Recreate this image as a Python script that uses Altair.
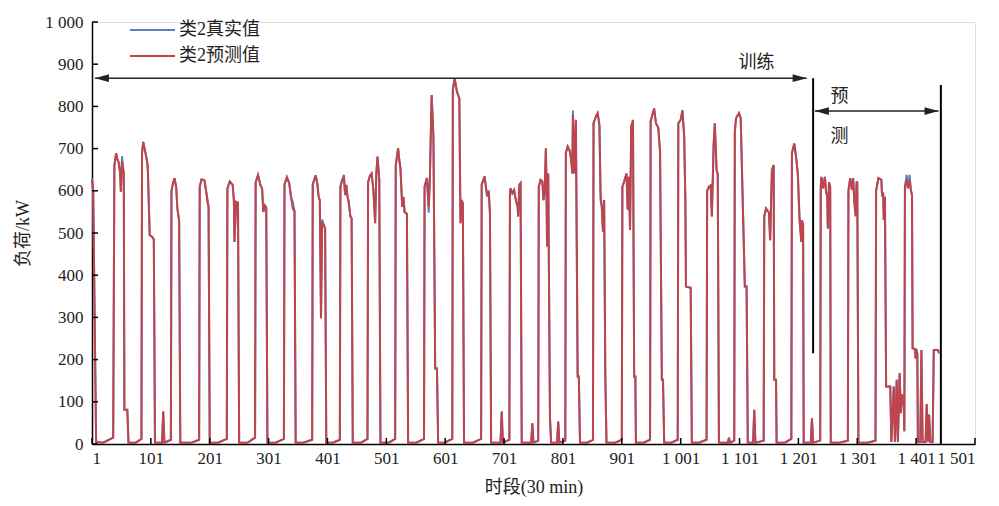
import altair as alt
import pandas as pd

# ---- data (breakpoints of the 30-min load series) ----
time_x = (
    [1, 3, 8, 20, 37]
    + [39, 42, 44, 46, 48, 49, 50, 52, 55, 56, 61, 63, 75, 85]
    + [86, 88, 92, 95, 96, 99, 103, 106, 108, 120, 122, 124, 135]
    + [136, 138, 141, 144, 146, 148, 149, 151, 170, 183]
    + [184, 187, 192, 195, 197, 199, 201, 215, 230]
    + [231, 235, 240, 242, 243, 246, 249, 251, 265, 278]
    + [279, 283, 287, 290, 292, 295, 297, 299, 313, 327]
    + [328, 332, 336, 339, 342, 345, 347, 360, 375]
    + [376, 381, 384, 386, 388, 390, 392, 395, 397, 399, 410, 422]
    + [423, 426, 429, 431, 433, 435, 437, 440, 442, 444, 458, 469]
    + [470, 473, 476, 479, 482, 484, 486, 489, 491, 505, 516]
    + [517, 521, 523, 525, 528, 530, 532, 536, 538, 552, 565]
    + [566, 570, 573, 575, 578, 581, 584, 587, 589, 600, 613]
    + [614, 617, 621, 625, 627, 629, 631, 633, 648, 662]
    + [663, 668, 670, 672, 675, 677, 679, 695, 697, 699, 710]
    + [711, 712, 715, 718, 721, 724, 725, 727, 729, 731, 747, 749, 751, 759]
    + [760, 763, 766, 768, 770, 772, 773, 774, 776, 779, 781, 791, 793, 795, 805]
    + [806, 809, 813, 815, 817, 818, 820, 823, 826, 828, 830, 842, 852]
    + [853, 857, 860, 863, 865, 867, 869, 871, 873, 875, 890, 901]
    + [902, 905, 909, 911, 913, 915, 917, 920, 922, 924, 925, 938, 949]
    + [950, 953, 956, 959, 963, 966, 969, 971, 973, 985, 996]
    + [997, 1001, 1004, 1007, 1009, 1010, 1018, 1020, 1032, 1045]
    + [1046, 1049, 1052, 1054, 1057, 1059, 1062, 1064, 1066, 1081, 1083, 1085, 1092]
    + [1093, 1095, 1100, 1103, 1107, 1110, 1113, 1115, 1124, 1126, 1128, 1142]
    + [1143, 1146, 1151, 1153, 1156, 1159, 1160, 1163, 1164, 1178, 1189]
    + [1190, 1194, 1197, 1200, 1203, 1206, 1207, 1209, 1210, 1222, 1224, 1226, 1238]
    + [1239, 1240, 1243, 1246, 1248, 1250, 1251, 1253, 1255, 1256, 1270, 1285]
    + [1286, 1289, 1292, 1294, 1296, 1298, 1300, 1301, 1303, 1318, 1332]
    + [1333, 1337, 1342, 1343, 1345, 1346, 1348, 1350, 1357, 1359, 1363, 1365, 1368,
       1370, 1373, 1375, 1377, 1380, 1381]
    + [1382, 1385, 1387, 1390, 1392, 1394, 1395, 1399, 1400, 1401, 1403, 1404, 1408,
       1410, 1412, 1417, 1419, 1421, 1423, 1425, 1429, 1431, 1438, 1440]
)

pred_kw = (
    [627, 600, 5, 3, 15]
    + [660, 689, 675, 669, 650, 637, 598, 669, 640, 81, 81, 3, 3, 12]
    + [690, 716, 689, 666, 645, 495, 491, 485, 3, 3, 77, 3, 10]
    + [600, 614, 630, 610, 558, 539, 530, 3, 3, 10]
    + [610, 627, 625, 598, 574, 562, 3, 3, 12]
    + [605, 622, 614, 578, 479, 574, 572, 3, 3, 15]
    + [620, 637, 614, 605, 550, 565, 560, 3, 3, 12]
    + [615, 632, 618, 586, 558, 552, 3, 3, 10]
    + [615, 637, 614, 586, 578, 298, 523, 519, 510, 3, 3, 10]
    + [610, 626, 630, 590, 614, 586, 574, 539, 535, 3, 3, 12]
    + [620, 635, 641, 602, 523, 641, 681, 626, 3, 3, 12]
    + [660, 701, 673, 653, 562, 586, 550, 545, 3, 3, 12]
    + [610, 630, 562, 633, 827, 728, 179, 179, 3, 3, 12]
    + [840, 867, 835, 819, 523, 578, 570, 3, 3, 12]
    + [615, 634, 610, 594, 598, 547, 3, 3, 77, 3, 10]
    + [595, 606, 594, 602, 578, 562, 539, 614, 618, 3, 3, 49, 3, 8]
    + [610, 626, 622, 578, 600, 701, 626, 468, 641, 61, 3, 3, 53, 3, 8]
    + [690, 705, 693, 673, 641, 780, 641, 768, 160, 160, 3, 3, 10]
    + [760, 776, 784, 756, 578, 562, 503, 578, 160, 3, 3, 10]
    + [610, 622, 641, 555, 633, 507, 752, 768, 160, 160, 3, 3, 10]
    + [765, 780, 795, 760, 749, 693, 152, 152, 3, 3, 10]
    + [760, 768, 791, 728, 575, 373, 370, 3, 3, 10]
    + [600, 610, 613, 539, 709, 760, 649, 640, 3, 3, 15, 3, 8]
    + [740, 772, 784, 772, 543, 373, 373, 3, 3, 81, 3, 8]
    + [540, 558, 548, 483, 649, 661, 152, 152, 3, 3, 12]
    + [690, 712, 681, 641, 531, 479, 530, 520, 3, 3, 61, 3, 8]
    + [610, 633, 606, 633, 598, 586, 511, 620, 610, 3, 3, 8]
    + [600, 630, 602, 630, 574, 539, 622, 619, 3, 3, 8]
    + [600, 630, 626, 594, 594, 531, 586, 136, 136, 5, 136, 5, 152,
       5, 168, 73, 118, 90, 30]
    + [610, 626, 606, 626, 602, 590, 227, 225, 203, 225, 215, 5, 5,
       223, 5, 5, 95, 5, 70, 5, 5, 223, 223, 215]
)

# points where the true series differs visibly from the prediction
true_fix_x = [1, 52, 197, 342, 392, 429, 573, 672, 818, 865, 1298, 1343, 1385, 1390]
true_fix_kw = [630, 682, 582, 574, 532, 638, 548, 586, 790, 592, 548, 586, 638, 638]

x_ticks = [1, 101, 201, 301, 401, 501, 601, 701, 801, 901, 1001, 1101, 1201, 1301, 1401, 1501]
y_ticks = [0, 100, 200, 300, 400, 500, 600, 700, 800, 900, 1000]

series_names = ["类2真实值", "类2预测值"]
series_colors = ["#5b7fc4", "#c1444b"]

# annotation values (data coordinates)
arrow_y = [867, 789]
arrow_x_start = [6, 1229]
arrow_x_end = [1215, 1439]
divider_x = [1226, 1443]
divider_lo = [215, 0]
divider_hi = [867, 851]
note_text = ["训练", "预", "测"]
note_x = [1130, 1271, 1271]
note_y = [903, 822, 727]

# ---- build tables ----
assert len(time_x) == len(pred_kw)
fix = dict(zip(true_fix_x, true_fix_kw))
true_kw = [fix.get(x, v) for x, v in zip(time_x, pred_kw)]
n = len(time_x)
df = pd.DataFrame({
    "x": time_x + time_x,
    "y": true_kw + pred_kw,
    "series": [series_names[0]] * n + [series_names[1]] * n,
    "order": list(range(n)) + list(range(n)),
})

FONT = "'Liberation Serif', 'Times New Roman', 'Noto Sans CJK SC', serif"
W, H = 883, 422
xscale = alt.Scale(domain=[1, 1501], nice=False, zero=False)
yscale = alt.Scale(domain=[0, 1000], nice=False)
lab_expr = "replace(format(datum.value, ',d'), ',', ' ')"

lines = alt.Chart(df).mark_line(strokeWidth=2).encode(
    x=alt.X("x:Q", scale=xscale,
            axis=alt.Axis(values=x_ticks, labelExpr=lab_expr, title="时段(30 min)",
                          grid=False, ticks=False, domainColor="black", domainWidth=1.5,
                          labelFont=FONT, labelFontSize=17, labelColor="#222",
                          labelPadding=6, titleFont=FONT, titleFontSize=18,
                          titleFontWeight="normal", titleColor="#222", titlePadding=12)),
    y=alt.Y("y:Q", scale=yscale,
            axis=alt.Axis(values=y_ticks, labelExpr=lab_expr, title="负荷/kW",
                          grid=False, ticks=False, domainColor="black", domainWidth=1.5,
                          labelFont=FONT, labelFontSize=17, labelColor="#222",
                          labelPadding=9, titleFont=FONT, titleFontSize=18,
                          titleFontWeight="normal", titleColor="#222", titlePadding=12)),
    color=alt.Color("series:N", scale=alt.Scale(domain=series_names, range=series_colors),
                    legend=None),
    order="order:Q",
)

xt = alt.Chart(pd.DataFrame({"t": x_ticks})).mark_rule(color="black", strokeWidth=1.5).encode(
    x=alt.X("t:Q", scale=xscale), y=alt.value(H), y2=alt.value(H - 6))
yt = alt.Chart(pd.DataFrame({"t": y_ticks})).mark_rule(color="black", strokeWidth=1.5).encode(
    y=alt.Y("t:Q", scale=yscale), x=alt.value(0), x2=alt.value(6))

arr = pd.DataFrame({"x0": arrow_x_start, "x1": arrow_x_end, "y": arrow_y})
arrow_lines = alt.Chart(arr).mark_rule(color="#222", strokeWidth=1.5).encode(
    x=alt.X("x0:Q", scale=xscale), x2="x1:Q", y=alt.Y("y:Q", scale=yscale))
head_l = alt.Chart(arr).mark_point(shape="M0,0L2,-0.55L2,0.55Z", filled=True, size=196,
                                   color="#222", opacity=1).encode(
    x=alt.X("x0:Q", scale=xscale), y=alt.Y("y:Q", scale=yscale))
head_r = alt.Chart(arr).mark_point(shape="M0,0L-2,-0.55L-2,0.55Z", filled=True, size=196,
                                   color="#222", opacity=1).encode(
    x=alt.X("x1:Q", scale=xscale), y=alt.Y("y:Q", scale=yscale))

div = pd.DataFrame({"x": divider_x, "lo": divider_lo, "hi": divider_hi})
dividers = alt.Chart(div).mark_rule(color="black", strokeWidth=2).encode(
    x=alt.X("x:Q", scale=xscale), y=alt.Y("lo:Q", scale=yscale), y2="hi:Q")

notes = alt.Chart(pd.DataFrame({"t": note_text, "x": note_x, "y": note_y})).mark_text(
    font=FONT, fontSize=18, color="#222", align="center", baseline="middle").encode(
    x=alt.X("x:Q", scale=xscale), y=alt.Y("y:Q", scale=yscale), text="t:N")

leg = []
for i, (name, col) in enumerate(zip(series_names, series_colors)):
    ly = 8 + 26 * i
    d = pd.DataFrame({"name": [name]})
    leg.append(alt.Chart(d).mark_rule(color=col, strokeWidth=2).encode(
        x=alt.value(38), x2=alt.value(83), y=alt.value(ly)))
    leg.append(alt.Chart(d).mark_text(font=FONT, fontSize=18, color="#222", align="left",
                                      baseline="middle").encode(
        x=alt.value(87), y=alt.value(ly), text="name:N"))

chart = alt.layer(lines, xt, yt, arrow_lines, head_l, head_r, dividers, notes, *leg).properties(
    width=W, height=H, autosize="none",
    padding={"left": 84, "top": 14, "right": 16, "bottom": 54},
).configure_view(stroke=None).configure(background="white")

chart.save("out.html", embed_options={"renderer": "svg", "actions": False})
